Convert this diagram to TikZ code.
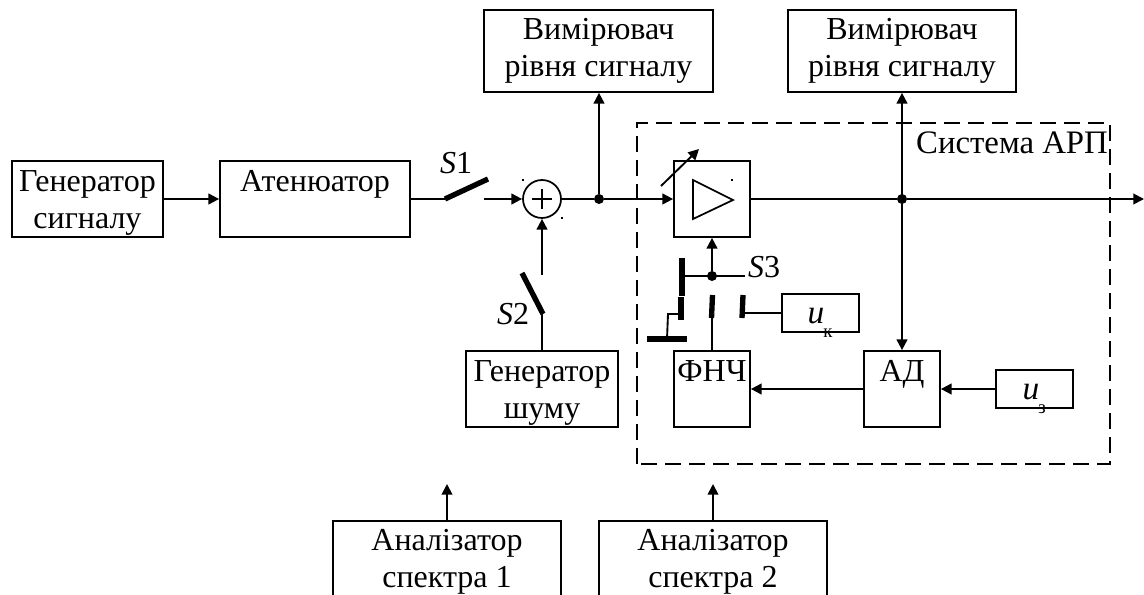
\documentclass[tikz,border=0pt]{standalone}
\usepackage{fontspec}
\setmainfont{Liberation Serif}
\usetikzlibrary{arrows.meta}
\tikzset{
  x=0.75pt,y=-0.75pt,
  wire/.style={line width=1.4pt,black},
  arr/.style={wire,-{Triangle[length=8pt,width=8pt]}},
  barr/.style={wire,{Triangle[length=8pt,width=8pt]}-{Triangle[length=8pt,width=8pt]}},
  blade/.style={line width=4pt,black},
  box/.style={draw=black,line width=1.3pt,inner sep=0pt,align=center,font=\fontsize{24}{27.5}\selectfont},
  txt/.style={inner sep=0pt,font=\fontsize{24}{27.5}\selectfont},
  dot/.style={circle,fill=black,inner sep=0pt,minimum size=7.5pt},
  tick/.style={fill=black,inner sep=0pt,minimum size=1.8pt},
  frame/.style={line width=1.2pt,dash pattern=on 12pt off 6pt},
}
\newcommand{\bx}[7]{\node[box,minimum width=#3*0.75pt,minimum height=#4*0.75pt] (#1) at (#5,#6) {#7};}
\begin{document}
\begin{tikzpicture}
\useasboundingbox (0,0) rectangle (1144,595);
\clip (0,0) rectangle (1144,595);
% boxes
\bx{gens}{}{151}{76}{87.5}{199}{\rule{0pt}{22pt}Генератор\\сигналу}
\bx{att}{}{190}{76}{315}{199}{Атенюатор\\\mbox{}}
\bx{meas1}{}{229}{82}{598.5}{51}{Вимірювач\\рівня сигналу}
\bx{meas2}{}{228}{82}{902}{51}{Вимірювач\\рівня сигналу}
\bx{noise}{}{152}{76}{542}{389}{\rule{0pt}{22pt}Генератор\\шуму}
\bx{amp}{}{76}{76}{712}{199}{}
\bx{lpf}{}{76}{76}{712}{389}{ФНЧ\\\mbox{}}
\bx{det}{}{76}{76}{902}{389}{АД\\\mbox{}}
\bx{uk}{}{77}{38}{820.5}{313}{}
\bx{uz}{}{77}{38}{1034.5}{389}{}
\bx{an1}{}{228}{82}{447}{562}{Аналізатор\\спектра 1}
\bx{an2}{}{228}{82}{713}{562}{Аналізатор\\спектра 2}
% sum
\node[draw=black,line width=1.3pt,circle,minimum size=28.5pt,inner sep=0pt] (sum) at (542,199) {};
\draw[line width=1pt] (532,199) -- (552,199) (542,189) -- (542,209);
\node[tick] (t1) at (523,180) {};
\node[tick] (t2) at (562,218) {};
\node[tick] (t3) at (732,180) {};
% amp triangle
\draw[line width=1.3pt] (693,180) -- (733,200) -- (693,219) -- cycle;
\draw[arr] (661,186) -- (699,149);
% coordinates
\coordinate (s1a) at (445,199);
\coordinate (s1b) at (488,179);
\coordinate (s1o) at (484,199);
\coordinate (s2a) at (543,314);
\coordinate (s2b) at (522,273);
\coordinate (s2o) at (542,275);
\coordinate (out) at (1144,199);
\node[dot] (j1) at (599,199) {};
\node[dot] (j2) at (902,199) {};
\node[dot] (j3) at (712,276) {};
\coordinate (s3f) at (682,276);
\coordinate (s3e) at (745,276);
\coordinate (c1) at (681,314);
\coordinate (c2) at (712,318);
\coordinate (c3) at (743,313);
\coordinate (gnd) at (667,339);
\coordinate (a1) at (447,484);
\coordinate (a2) at (713,484);
% connectors
\draw[arr] (gens.east) -- (att.west);
\draw[wire] (att.east) -- (s1a);
\draw[blade] (s1a) -- (s1b);
\draw[arr] (s1o) -- (sum.west);
\draw[wire] (sum.east) -- (j1);
\draw[arr] (j1) -- (amp.west);
\draw[arr] (j1) -- (j1|-meas1.south);
\draw[wire] (amp.east) -- (j2);
\draw[arr] (j2) -- (out);
\draw[barr] (meas2.south) -- (det.north);
\draw[wire] (noise.north) -- (542,314);
\draw[blade] (s2a) -- (s2b);
\draw[arr] (s2o) -- (sum.south);
\draw[arr] (j3) -- (amp.south);
\draw[wire] (s3f) -- (s3e);
\draw[blade] (682,258) -- (682,296);
\draw[blade] (681,297) -- (681,320);
\draw[blade] (712.5,295) -- (711.5,318);
\draw[blade] (743,295) -- (742,318);
\draw[wire] (c2) -- (lpf.north);
\draw[wire] (c3) -- (uk.west);
\draw[wire] (c1) -- (668,314) -- (gnd);
\draw[line width=4pt] (647,339) -- (687,339);
\draw[arr] (det.west) -- (lpf.east);
\draw[arr] (uz.west) -- (det.east);
\draw[arr] (an1.north) -- (a1);
\draw[arr] (an2.north) -- (a2);
% frame
\draw[frame] (637,464) -- (637,123) -- (1110,123) -- (1110,464) -- cycle;
% labels
\node[txt] (ls1) at (456,163) {\textit{S}1};
\node[txt] (ls2) at (513,314) {\textit{S}2};
\node[txt] (ls3) at (764,267) {\textit{S}3};
\node[txt,font=\fontsize{24.6}{27.5}\selectfont] (lsys) at (1012,143) {Система АРП};
\node[txt,font=\fontsize{25}{25}\selectfont] (lu1) at (816,316) {\textit{u}};
\node[inner sep=0pt,font=\fontsize{14}{14}\selectfont] (lk) at (828,333) {к};
\node[txt,font=\fontsize{25}{25}\selectfont] (lu2) at (1031,392) {\textit{u}};
\node[inner sep=0pt,font=\fontsize{14}{14}\selectfont] (lz) at (1042,409) {з};
\end{tikzpicture}
\end{document}
